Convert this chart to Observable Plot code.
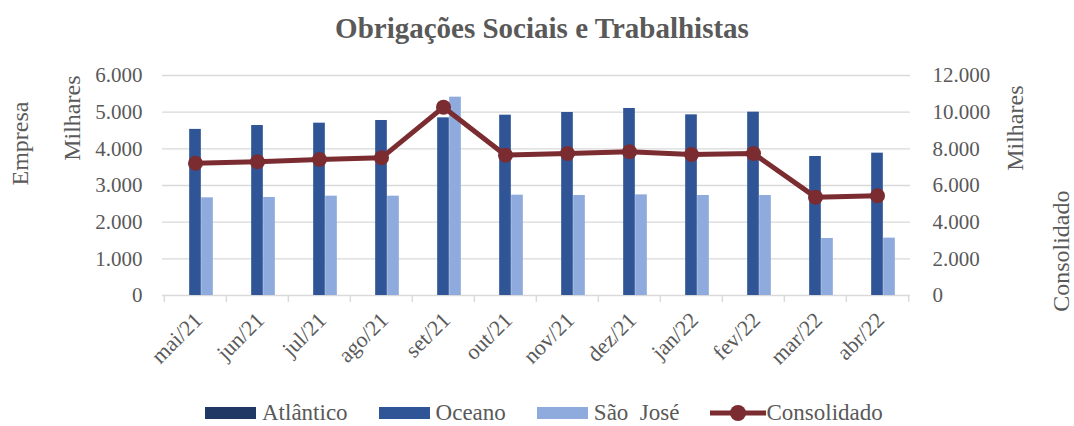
<!DOCTYPE html>
<html><head><meta charset="utf-8">
<script src="https://cdn.jsdelivr.net/npm/d3@7"></script>
<script src="https://cdn.jsdelivr.net/npm/@observablehq/plot@0.6"></script>
<style>
body{margin:0;background:#fff;font-family:"Liberation Serif",serif;color:#595959;width:1074px;overflow:hidden;}
#title{height:34px;padding-top:11px;line-height:34px;text-align:center;font-weight:bold;font-size:29px;padding-left:10px;}
#legend{height:36px;display:flex;justify-content:flex-start;align-items:center;gap:31px;font-size:23px;padding-left:205px;}
.item{display:flex;align-items:center;gap:6px;}
.sw{width:51px;height:12px;display:inline-block;}
</style></head><body>
<div id="title">Obrigações Sociais e Trabalhistas</div>
<div id="chart"></div>
<div id="legend"></div>
<script>
const months = ["mai/21","jun/21","jul/21","ago/21","set/21","out/21","nov/21","dez/21","jan/22","fev/22","mar/22","abr/22"];
const atlantico = [0,0,0,0,0,0,0,0,0,0,0,0];
const oceano = [4530,4636,4700,4773,4845,4918,4991,5100,4927,5000,3791,3882];
const saoJose = [2664,2673,2709,2709,5409,2736,2727,2745,2727,2727,1555,1564];
const consolidado = [7216,7292,7418,7510,10273,7655,7746,7838,7691,7746,5364,5437];
const leftTicks = [0,1000,2000,3000,4000,5000,6000];
const rightTicks = [0,2000,4000,6000,8000,10000,12000];
const seriesNames = ["Atlântico","Oceano","São  José","Consolidado"];
const colors = ["#1f3864","#2f5597","#8faadc","#7b2c30"];

const ptBR = d3.formatLocale({decimal:",",thousands:".",grouping:[3],currency:["R$",""]});
const fmt = ptBR.format(",d");
const ratio = d3.max(rightTicks)/d3.max(leftTicks);

const data = months.map((m,i)=>({month:m, atlantico:atlantico[i], oceano:oceano[i], saoJose:saoJose[i], consolidado:consolidado[i]}));

const W = 1074, H = 350, mL = 162, mR = 164, mT = 30, mB = 100;
const bw = (W - mL - mR) / months.length;
const barW = 12;
const inset = (bw - barW) / 2;
const grid = "#d9d9d9";
const titleStyle = {fill: "#595959", fontSize: 24};

const chart = Plot.plot({
  width: W, height: H,
  marginLeft: mL, marginRight: mR, marginTop: mT, marginBottom: mB,
  style: {fontFamily: "'Liberation Serif', serif", fontSize: "21px", color: "#595959", background: "#fff", overflow: "visible"},
  x: {domain: months, padding: 0},
  y: {domain: [0, d3.max(leftTicks)]},
  marks: [
    Plot.ruleY(leftTicks, {y: d=>d, stroke: grid, strokeWidth: 1.4}),
    Plot.ruleX(months, {x: d=>d, y1: 0, y2: 0, insetBottom: -7, dx: -bw/2, stroke: grid, strokeWidth: 1.4}),
    Plot.ruleX(months.slice(-1), {x: d=>d, y1: 0, y2: 0, insetBottom: -7, dx: bw/2, stroke: grid, strokeWidth: 1.4}),
    Plot.barY(data, {x: "month", y: "atlantico", fill: colors[0], insetLeft: inset, insetRight: inset, dx: -barW}),
    Plot.barY(data, {x: "month", y: "oceano", fill: colors[1], insetLeft: inset, insetRight: inset}),
    Plot.barY(data, {x: "month", y: "saoJose", fill: colors[2], insetLeft: inset, insetRight: inset, dx: barW}),
    Plot.line(data, {x: "month", y: d=>d.consolidado/ratio, stroke: colors[3], strokeWidth: 5}),
    Plot.dot(data, {x: "month", y: d=>d.consolidado/ratio, r: 7.5, fill: colors[3], stroke: "none"}),
    Plot.axisY({ticks: leftTicks, tickSize: 0, tickPadding: 20, tickFormat: fmt, label: null}),
    Plot.axisY({anchor: "right", ticks: rightTicks.map(d=>d/ratio), tickSize: 0, tickPadding: 22, tickFormat: d=>fmt(d*ratio), label: null}),
    Plot.axisX({tickSize: 0, tickRotate: -45, tickPadding: 21, fontSize: 22, dx: 3, label: null}),
    Plot.text(["Milhares"], {frameAnchor: "top-left", dx: -90, rotate: -90, textAnchor: "end", lineAnchor: "middle", ...titleStyle}),
    Plot.text(["Empresa"], {frameAnchor: "left", dx: -142, rotate: -90, lineAnchor: "middle", ...titleStyle}),
    Plot.text(["Milhares"], {frameAnchor: "top-right", dx: 105, dy: 10, rotate: -90, textAnchor: "end", lineAnchor: "middle", ...titleStyle}),
    Plot.text(["Consolidado"], {frameAnchor: "right", dx: 151, dy: 5, rotate: -90, lineAnchor: "middle", ...titleStyle})
  ]
});
document.getElementById("chart").appendChild(chart);

const legend = document.getElementById("legend");
seriesNames.forEach((name,i)=>{
  const item = document.createElement("div");
  item.className = "item";
  let sw;
  if (i < 3) {
    sw = `<span class="sw" style="background:${colors[i]}"></span>`;
  } else {
    sw = `<svg width="56" height="18" style="margin-right:-6px"><line x1="0" y1="9" x2="56" y2="9" stroke="${colors[3]}" stroke-width="5"/><circle cx="28" cy="9" r="8" fill="${colors[3]}"/></svg>`;
  }
  item.innerHTML = sw + `<span style="white-space:pre">${name}</span>`;
  legend.appendChild(item);
});
</script>
</body></html>
